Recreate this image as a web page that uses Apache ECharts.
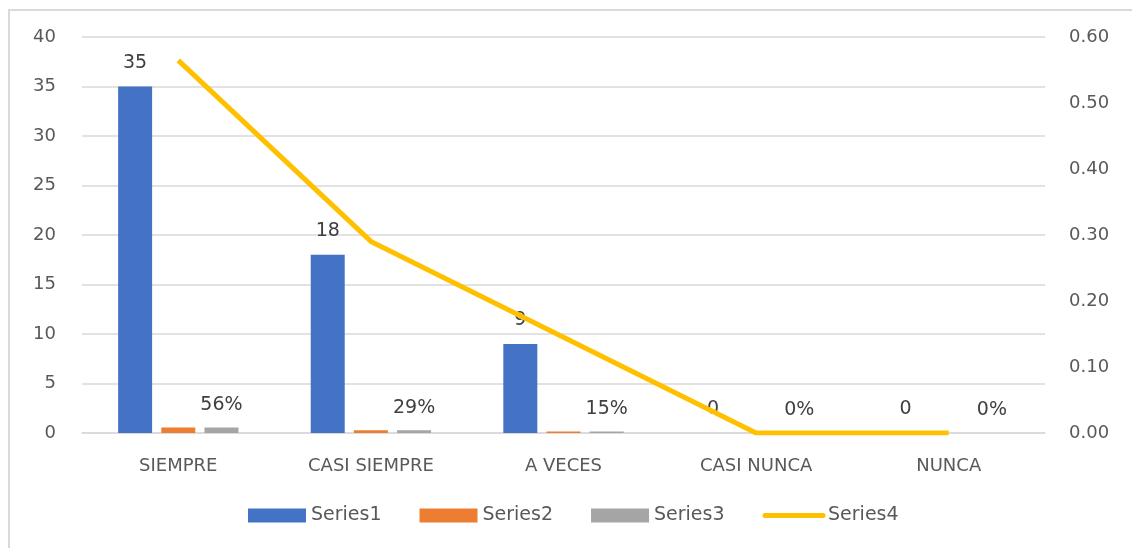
<!DOCTYPE html>
<html>
<head>
<meta charset="utf-8">
<script src="https://cdn.jsdelivr.net/npm/echarts@6/dist/echarts.min.js"></script>
<style>
  html, body { margin: 0; padding: 0; background: #fff; overflow: hidden; width: 1132px; height: 548px; }
  #frame { position: absolute; left: 8px; top: 9px; width: 1130px; height: 545px; border-left: 2px solid #d9d9d9; border-top: 2px solid #d9d9d9; }
  #chart { position: absolute; left: 0; top: 0; width: 1132px; height: 548px; }
</style>
</head>
<body>
<div id="frame"></div>
<div id="chart"></div>
<script>
const categories = ['SIEMPRE', 'CASI SIEMPRE', 'A VECES', 'CASI NUNCA', 'NUNCA'];
const series1 = [35, 18, 9, 0, 0];
const series2 = [0.5645, 0.2903, 0.1452, 0, 0];
const series3 = [0.5645, 0.2903, 0.1452, 0, 0];
const series4 = [0.5645, 0.2903, 0.1452, 0, 0];

const font = '"DejaVu Sans", sans-serif';
const textColor = '#595959';

const chartInstance = echarts.init(document.getElementById('chart'), null, { renderer: 'canvas' });

chartInstance.setOption({
  animation: false,
  textStyle: { fontFamily: font },
  grid: { left: 82, right: 87, top: 37, bottom: 115 },
  legend: {
    left: 243,
    bottom: 18,
    itemWidth: 58,
    itemHeight: 14,
    itemGap: 38,
    textStyle: { color: textColor, fontSize: 19, fontFamily: font },
    data: [
      { name: 'Series1', icon: 'rect' },
      { name: 'Series2', icon: 'rect' },
      { name: 'Series3', icon: 'rect' },
      { name: 'Series4', itemStyle: { opacity: 0 }, lineStyle: { width: 5, cap: 'round' } }
    ]
  },
  xAxis: {
    type: 'category',
    data: categories,
    axisLine: { lineStyle: { color: '#d9d9d9', width: 1.5 } },
    axisTick: { show: false },
    axisLabel: { color: textColor, fontSize: 18, margin: 24 }
  },
  yAxis: [
    {
      type: 'value',
      min: 0, max: 40, interval: 5,
      axisLine: { show: false },
      axisTick: { show: false },
      axisLabel: { color: textColor, fontSize: 18, margin: 26 },
      splitLine: { lineStyle: { color: '#d9d9d9', width: 1.5 } }
    },
    {
      type: 'value',
      min: 0, max: 0.6, interval: 0.1,
      axisLine: { show: false },
      axisTick: { show: false },
      axisLabel: { color: textColor, fontSize: 18, margin: 24, formatter: v => v.toFixed(2) },
      splitLine: { show: false }
    }
  ],
  series: [
    {
      name: 'Series1', type: 'bar', data: series1,
      barWidth: 34, barGap: '27%',
      itemStyle: { color: '#4472C4' },
      label: { show: true, position: 'top', color: '#404040', fontSize: 19, distance: 14 }
    },
    {
      name: 'Series2', type: 'bar', data: series2,
      barWidth: 34, barGap: '27%',
      itemStyle: { color: '#ED7D31' }
    },
    {
      name: 'Series3', type: 'bar', data: series3,
      barWidth: 34, barGap: '27%',
      itemStyle: { color: '#A5A5A5' },
      label: {
        show: true, position: 'top', color: '#404040', fontSize: 19, distance: 13,
        formatter: p => Math.round(p.value * 100) + '%'
      }
    },
    {
      name: 'Series4', type: 'line', yAxisIndex: 1, data: series4,
      symbol: 'none',
      lineStyle: { color: '#FFC000', width: 5 },
      itemStyle: { color: '#FFC000' }
    }
  ]
});
</script>
</body>
</html>
